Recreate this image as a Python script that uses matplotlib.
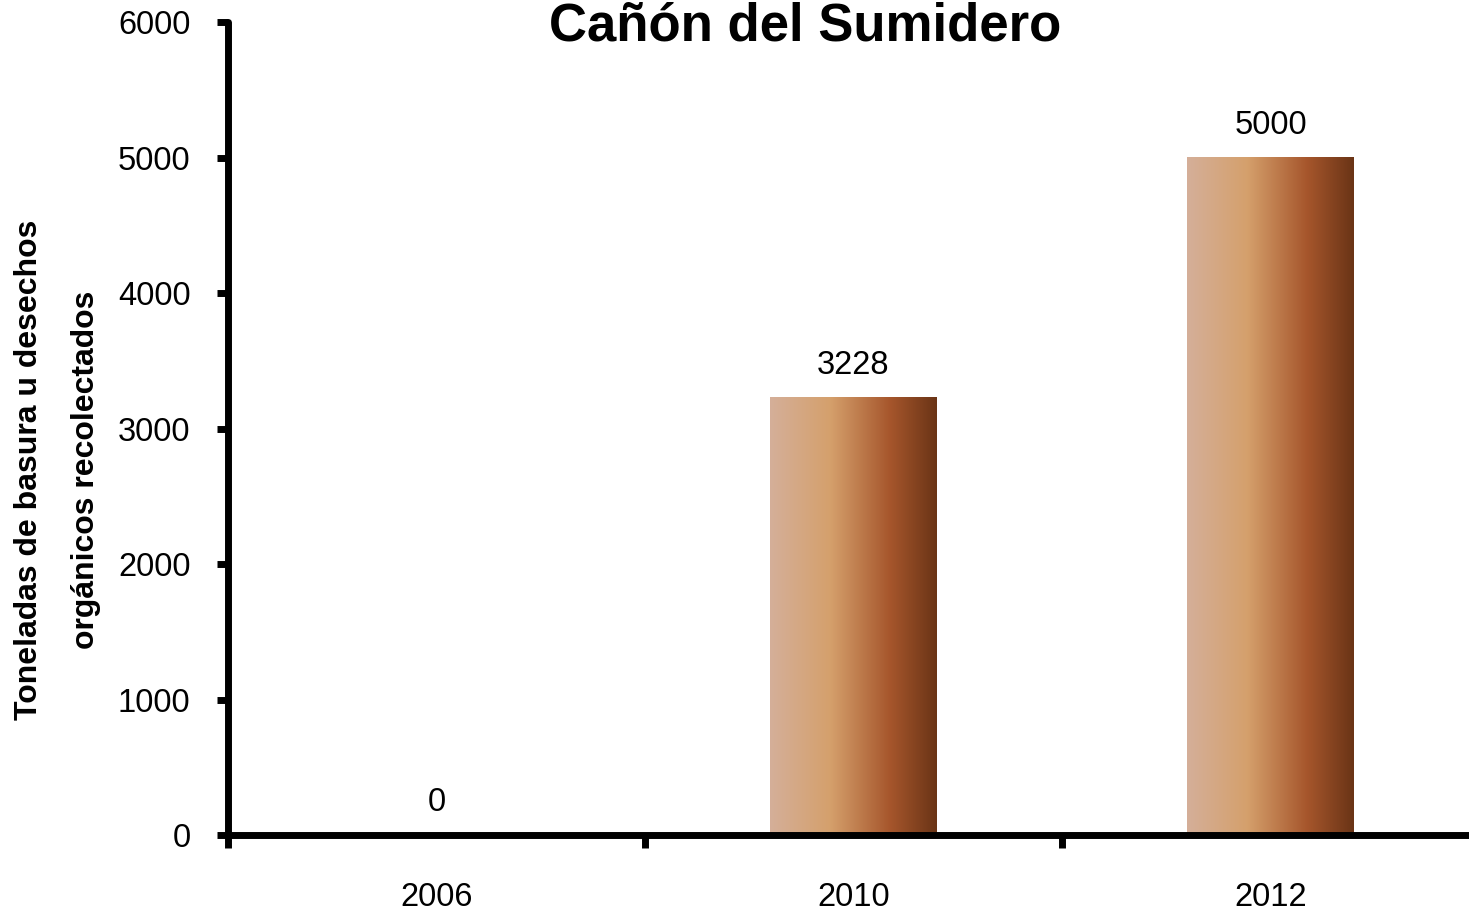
import matplotlib
matplotlib.use("Agg")
import matplotlib.pyplot as plt
import numpy as np
from matplotlib.colors import LinearSegmentedColormap

plt.rcParams['font.family'] = ['Liberation Sans', 'DejaVu Sans']

years = ["2006", "2010", "2012"]
toneladas = [0, 3228, 5000]
yticks = [0, 1000, 2000, 3000, 4000, 5000, 6000]

TITLE = "Cañón del Sumidero"
YLABEL = "Toneladas de basura u desechos\norgánicos recolectados"

# left-to-right shading of the bars
grad = LinearSegmentedColormap.from_list(
    "cafe", [(0.0, "#d4af99"), (0.36, "#d5a06c"), (0.72, "#a6562c"), (1.0, "#6a3416")])

fig = plt.figure(figsize=(14.69, 9.13), dpi=100)
ax = fig.add_axes([0.1552, 0.0854, 0.8516, 0.8905])

x = np.arange(len(years))
bars = ax.bar(x, toneladas, width=0.4, color="none", edgecolor="none")

g = np.linspace(0, 1, 256).reshape(1, -1)
for b in bars:
    if b.get_height() <= 0:
        continue
    x0, y0 = b.get_x(), b.get_y()
    ax.imshow(g, cmap=grad, aspect="auto", interpolation="bicubic",
              extent=(x0, x0 + b.get_width(), y0, y0 + b.get_height()), zorder=2)

for xi, v in zip(x, toneladas):
    ax.annotate(str(v), (xi, v), xytext=(0, 17), textcoords="offset points",
                ha="center", va="baseline", fontsize=23.5)

ax.set_xlim(-0.5, 2.5)
ax.set_ylim(0, 6000)
ax.set_yticks(yticks)
ax.set_yticklabels([str(t) for t in yticks])

# boundaries get the tick marks, centres get the labels
ax.set_xticks([-0.5, 0.5, 1.5, 2.5])
ax.set_xticklabels([])
ax.set_xticks(x, minor=True)
ax.set_xticklabels(years, minor=True)
ax.tick_params(axis="x", which="minor", length=0, pad=33.5, labelsize=23.5)
ax.tick_params(axis="x", which="major", length=9, width=5, direction="out")
ax.tick_params(axis="y", length=8, width=5, pad=19, labelsize=23.5)

for s in ["top", "right"]:
    ax.spines[s].set_visible(False)
for s in ["left", "bottom"]:
    ax.spines[s].set_linewidth(5)
    ax.spines[s].set_capstyle("round")

fig.text(0.548, 0.998, TITLE, ha="center", va="top", fontsize=38, fontweight="bold")
fig.text(0.039, 0.485, YLABEL, ha="center", va="center", rotation=90,
         fontsize=23, fontweight="bold", linespacing=2.15)

fig.savefig("out.png", dpi=100)
